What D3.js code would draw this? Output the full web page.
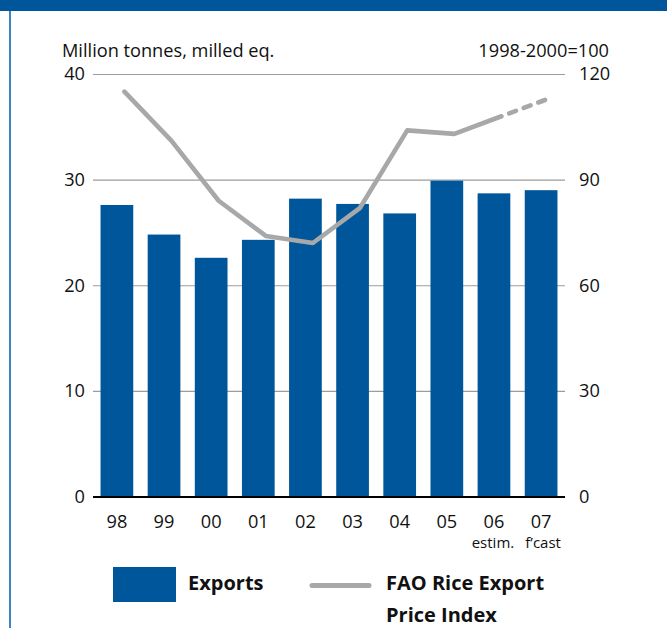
<!DOCTYPE html>
<html>
<head>
<meta charset="utf-8">
<script src="https://cdn.jsdelivr.net/npm/d3@7/dist/d3.min.js"></script>
<style>
  html, body { margin: 0; padding: 0; background: #fff; }
  svg { display: block; font-family: "Open Sans", "Noto Sans", sans-serif; }
</style>
</head>
<body>
<svg id="chart" width="667" height="628"></svg>
<script>
// Rice exports (million tonnes, milled eq.) and FAO Rice Export Price Index
const categories = ["98", "99", "00", "01", "02", "03", "04", "05", "06", "07"];
const exportsMt = [27.6, 24.8, 22.6, 24.3, 28.2, 27.7, 26.8, 29.9, 28.7, 29.0];
const priceIndex = [115, 101, 84, 74, 72, 82, 104, 103, 108, 113];
const leftTicks = [0, 10, 20, 30, 40];
const rightTicks = [0, 30, 60, 90, 120];
const footnotes = [{ cat: "06", text: "estim." }, { cat: "07", text: "f\u2019cast" }];

const BLUE = "#00569a";
const GREY = "#a7a8aa";
const FS = 18.2;

const svg = d3.select("#chart");
const plotLeft = 93, plotRight = 565, plotTop = 74, plotBottom = 496.5;

const x = d3.scaleBand().domain(categories).range([plotLeft, plotRight])
  .paddingInner(0.306).paddingOuter(0.16);
const yL = d3.scaleLinear().domain([0, 40]).range([plotBottom, plotTop]);
const yR = d3.scaleLinear().domain([0, 120]).range([plotBottom, plotTop]);

// frame: top band and left rule
svg.append("rect").attr("x", 0).attr("y", 0).attr("width", 667).attr("height", 11).attr("fill", BLUE);
svg.append("rect").attr("x", 9).attr("y", 11).attr("width", 2).attr("height", 617).attr("fill", "#3f84c2");

// unit captions
svg.append("text").attr("x", 62).attr("y", 57).attr("font-size", FS).attr("fill", "#111")
  .text("Million tonnes, milled eq.");
svg.append("text").attr("x", 609).attr("y", 57).attr("text-anchor", "end").attr("font-size", FS).attr("fill", "#111")
  .text("1998-2000=100");

// left axis with gridlines
const gL = svg.append("g").attr("transform", `translate(${plotLeft},0)`)
  .call(d3.axisLeft(yL).tickValues(leftTicks).tickSize(-(plotRight - plotLeft)).tickPadding(8));
gL.select(".domain").remove();
gL.selectAll(".tick line").attr("stroke", "#9c9c9c").attr("stroke-width", 1.2);
gL.selectAll(".tick text").attr("font-size", FS).attr("fill", "#111").attr("font-family", "Open Sans");

// right axis
const gR = svg.append("g").attr("transform", `translate(${plotRight},0)`)
  .call(d3.axisRight(yR).tickValues(rightTicks).tickSize(0).tickPadding(14));
gR.select(".domain").remove();
gR.selectAll(".tick text").attr("font-size", FS).attr("fill", "#111").attr("font-family", "Open Sans");

// bars
svg.append("g").selectAll("rect").data(categories).join("rect")
  .attr("x", d => x(d))
  .attr("y", (d, i) => yL(exportsMt[i]))
  .attr("width", x.bandwidth())
  .attr("height", (d, i) => plotBottom - yL(exportsMt[i]))
  .attr("fill", BLUE);

// baseline
svg.append("line").attr("x1", plotLeft).attr("x2", plotRight).attr("y1", plotBottom + 0.5).attr("y2", plotBottom + 0.5)
  .attr("stroke", "#000").attr("stroke-width", 2);

// category labels
svg.append("g").selectAll("text").data(categories).join("text")
  .attr("x", d => x(d) + x.bandwidth() / 2)
  .attr("y", 528)
  .attr("text-anchor", "middle")
  .attr("font-size", FS).attr("fill", "#111")
  .text(d => d);

svg.append("g").selectAll("text").data(footnotes).join("text")
  .attr("x", (d, i) => x(d.cat) + x.bandwidth() / 2 + (i === 0 ? -1 : 2))
  .attr("y", 548)
  .attr("text-anchor", "middle")
  .attr("font-size", 15).attr("fill", "#111")
  .text(d => d.text);

// price index line: actual values solid, forecast segment dashed
const pts = categories.map((c, i) => [x(c) + x.bandwidth() / 2 + 7.5, yR(priceIndex[i])]);
const line = d3.line();
svg.append("path").attr("d", line(pts.slice(0, 9)))
  .attr("fill", "none").attr("stroke", GREY).attr("stroke-width", 4.6)
  .attr("stroke-linejoin", "round").attr("stroke-linecap", "round");
svg.append("path").attr("d", line(pts.slice(8)))
  .attr("fill", "none").attr("stroke", GREY).attr("stroke-width", 4.6)
  .attr("stroke-linecap", "round")
  .attr("stroke-dasharray", "7.2,8.3").attr("stroke-dashoffset", 7.2);

// legend
const lg = svg.append("g");
lg.append("rect").attr("x", 113).attr("y", 567).attr("width", 63).attr("height", 35).attr("fill", BLUE);
lg.append("text").attr("x", 188).attr("y", 590).attr("font-size", 20).attr("font-weight", "bold").attr("fill", "#111")
  .text("Exports");
lg.append("line").attr("x1", 312).attr("x2", 369).attr("y1", 585.5).attr("y2", 585.5)
  .attr("stroke", GREY).attr("stroke-width", 5).attr("stroke-linecap", "round");
lg.append("text").attr("x", 386).attr("y", 590).attr("font-size", 20).attr("font-weight", "bold").attr("fill", "#111")
  .text("FAO Rice Export");
lg.append("text").attr("x", 386).attr("y", 622).attr("font-size", 20).attr("font-weight", "bold").attr("fill", "#111")
  .text("Price Index");
</script>
</body>
</html>
